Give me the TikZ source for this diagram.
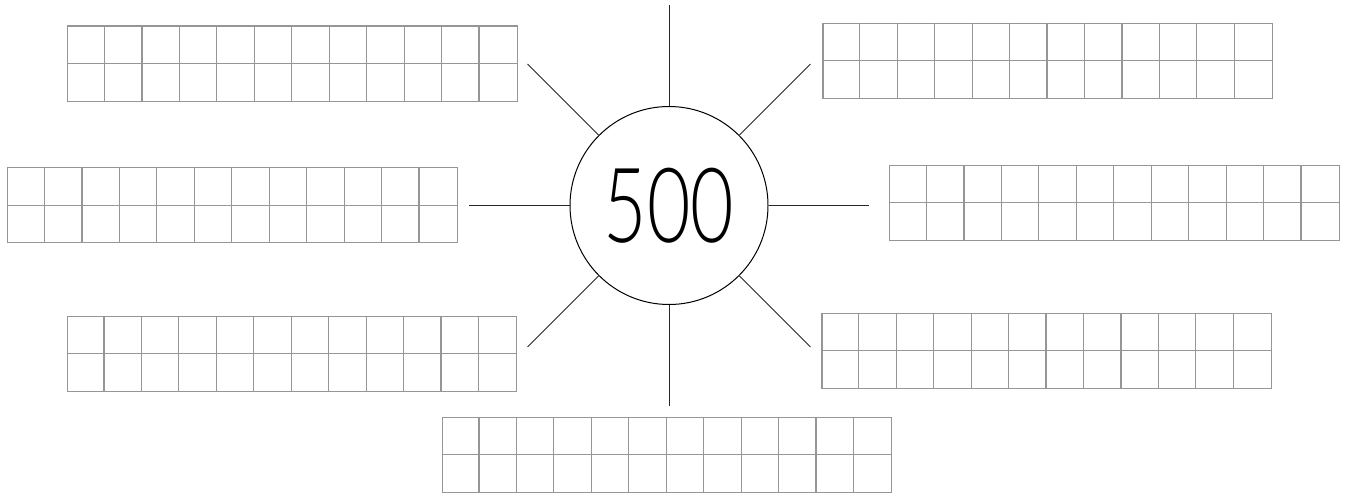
\documentclass[tikz,border=0pt]{standalone}
\usepackage{fontspec}
\usepackage{xcolor}
\usepackage{tikz}
\usetikzlibrary{positioning}
\newfontfamily\digitfont{Lato Light}
\definecolor{gridgray}{RGB}{150,150,150}
\tikzset{
  gridbox/.style={draw=gridgray, line width=1.2pt, minimum width=449.5pt, minimum height=75pt, inner sep=0pt, anchor=north west},
  cellline/.style={gridgray, line width=1.2pt},
  ray/.style={line width=1pt, black!85},
  hub/.style={circle, draw, line width=1pt, minimum size=198pt, inner sep=0pt},
}
\newcommand{\cellw}{37.458pt}

\begin{document}
\begin{tikzpicture}[x=1pt,y=-1pt]
\useasboundingbox (0,0) rectangle (1349,495);
\node[hub] (c) at (669,205.5) {\digitfont\fontsize{104}{104}\selectfont\scalebox{0.72}[1]{500}};
\foreach \a in {0,45,...,315}
  \draw[ray] (c.\a) -- ([shift={(\a:200pt)}]c.center);
\node[gridbox] (g1) at (67,25.5) {};
\node[gridbox] (g2) at (7,167) {};
\node[gridbox] (g3) at (66.5,315.5) {};
\node[gridbox] (g4) at (441.5,416.5) {};
\node[gridbox] (g5) at (822.3,22.8) {};
\node[gridbox] (g6) at (889,164.5) {};
\node[gridbox] (g7) at (821.3,312.7) {};
\foreach \g in {g1,g2,g3,g4,g5,g6,g7} {
  \draw[cellline] (\g.west) -- (\g.east);
  \foreach \k in {1,...,11}
    \draw[cellline] ([xshift=\k*\cellw]\g.north west) -- ([xshift=\k*\cellw]\g.south west);
}
\end{tikzpicture}
\end{document}
